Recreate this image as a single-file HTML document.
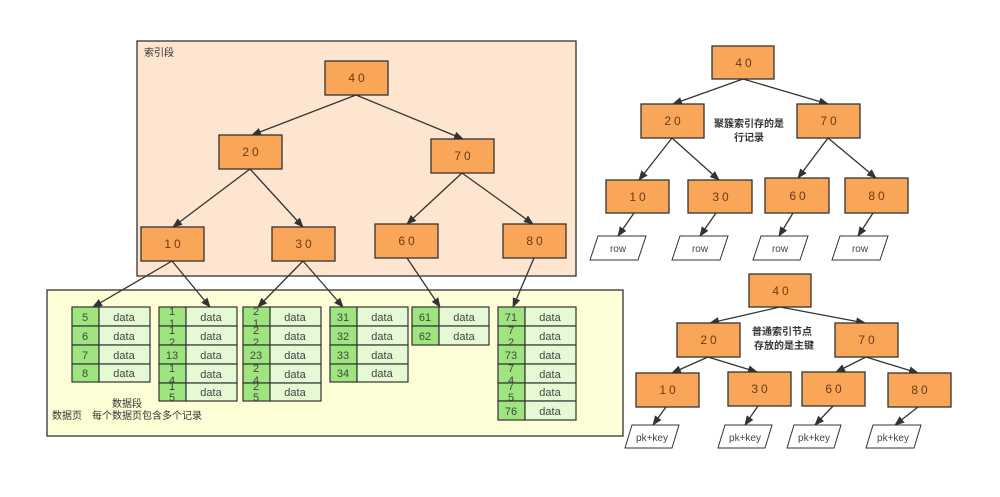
<!DOCTYPE html>
<html><head><meta charset="utf-8"><style>
html,body{margin:0;padding:0;background:#fff}
svg{display:block}
text{font-family:"Liberation Sans","Noto Sans CJK SC",sans-serif}
.n{fill:#f9a659;stroke:#333;stroke-width:1.3}
.nt{font-size:12px;fill:#6b3a10;text-anchor:middle;letter-spacing:3px}
.e{stroke:#333;stroke-width:1.3;fill:none;marker-end:url(#a)}
.k{fill:#9ee57f;stroke:#333;stroke-width:1.2}
.d{fill:#e4f9d4;stroke:#333;stroke-width:1.2}
.kt{font-size:11px;fill:#444;text-anchor:middle}
.dt{font-size:11px;fill:#444;text-anchor:middle}
.p{fill:#fff;stroke:#333;stroke-width:1}
.pt{font-size:10px;fill:#444;text-anchor:middle}
.c{font-size:10px;fill:#333}
</style></head><body>
<svg width="1000" height="497" viewBox="0 0 1000 497" xmlns="http://www.w3.org/2000/svg">
<defs><marker id="a" markerWidth="10" markerHeight="8" refX="9" refY="4" orient="auto" markerUnits="userSpaceOnUse"><path d="M0,0 L10,4 L0,8 Z" fill="#333"/></marker></defs>

<!-- data segment -->
<rect x="47" y="290" width="576" height="146" fill="#fdfdd6" stroke="#333" stroke-width="1.3"/>
<!-- index segment -->
<rect x="137" y="41" width="439" height="235" fill="#fde5cf" stroke="#333" stroke-width="1.3"/>
<text x="144" y="56" class="c" fill="#666">索引段</text>

<!-- left tree edges -->
<line class="e" x1="356" y1="95" x2="252" y2="135"/>
<line class="e" x1="356" y1="95" x2="463" y2="139"/>
<line class="e" x1="250" y1="169" x2="173" y2="227"/>
<line class="e" x1="250" y1="169" x2="303" y2="227"/>
<line class="e" x1="462" y1="173" x2="407" y2="224"/>
<line class="e" x1="462" y1="173" x2="533" y2="224"/>
<line class="e" x1="172" y1="261" x2="93" y2="307"/>
<line class="e" x1="172" y1="261" x2="210" y2="307"/>
<line class="e" x1="303" y1="261" x2="258" y2="307"/>
<line class="e" x1="303" y1="261" x2="343" y2="307"/>
<line class="e" x1="407" y1="258" x2="440" y2="307"/>
<line class="e" x1="534" y1="258" x2="513" y2="307"/>

<rect class="n" x="325" y="61" width="63" height="34"/><text class="nt" x="358" y="82">40</text>
<rect class="n" x="219" y="135" width="63" height="34"/><text class="nt" x="252" y="156">20</text>
<rect class="n" x="431" y="139" width="63" height="34"/><text class="nt" x="464" y="160">70</text>
<rect class="n" x="141" y="227" width="63" height="34"/><text class="nt" x="174" y="248">10</text>
<rect class="n" x="272" y="227" width="63" height="34"/><text class="nt" x="305" y="248">30</text>
<rect class="n" x="375" y="224" width="63" height="34"/><text class="nt" x="408" y="245">60</text>
<rect class="n" x="503" y="224" width="63" height="34"/><text class="nt" x="536" y="245">80</text>

<!-- page 1 -->
<g>
<rect class="k" x="72" y="307" width="27" height="19"/><rect class="d" x="99" y="307" width="51" height="19"/><text class="kt" x="85" y="321">5</text><text class="dt" x="124" y="321">data</text>
<rect class="k" x="72" y="326" width="27" height="19"/><rect class="d" x="99" y="326" width="51" height="19"/><text class="kt" x="85" y="340">6</text><text class="dt" x="124" y="340">data</text>
<rect class="k" x="72" y="345" width="27" height="19"/><rect class="d" x="99" y="345" width="51" height="19"/><text class="kt" x="85" y="359">7</text><text class="dt" x="124" y="359">data</text>
<rect class="k" x="72" y="364" width="27" height="18"/><rect class="d" x="99" y="364" width="51" height="18"/><text class="kt" x="85" y="377">8</text><text class="dt" x="124" y="377">data</text>
</g>
<!-- page 2 -->
<g>
<rect class="k" x="159" y="307" width="27" height="19"/><rect class="d" x="186" y="307" width="51" height="19"/><text class="kt" x="172" y="315">1</text><text class="kt" x="172" y="327">1</text><text class="dt" x="211" y="321">data</text>
<rect class="k" x="159" y="326" width="27" height="19"/><rect class="d" x="186" y="326" width="51" height="19"/><text class="kt" x="172" y="334">1</text><text class="kt" x="172" y="346">2</text><text class="dt" x="211" y="340">data</text>
<rect class="k" x="159" y="345" width="27" height="19"/><rect class="d" x="186" y="345" width="51" height="19"/><text class="kt" x="172" y="359">13</text><text class="dt" x="211" y="359">data</text>
<rect class="k" x="159" y="364" width="27" height="19"/><rect class="d" x="186" y="364" width="51" height="19"/><text class="kt" x="172" y="372">1</text><text class="kt" x="172" y="384">4</text><text class="dt" x="211" y="378">data</text>
<rect class="k" x="159" y="383" width="27" height="18"/><rect class="d" x="186" y="383" width="51" height="18"/><text class="kt" x="172" y="390">1</text><text class="kt" x="172" y="401">5</text><text class="dt" x="211" y="396">data</text>
</g>
<!-- page 3 -->
<g>
<rect class="k" x="243" y="307" width="27" height="19"/><rect class="d" x="270" y="307" width="51" height="19"/><text class="kt" x="256" y="315">2</text><text class="kt" x="256" y="327">1</text><text class="dt" x="295" y="321">data</text>
<rect class="k" x="243" y="326" width="27" height="19"/><rect class="d" x="270" y="326" width="51" height="19"/><text class="kt" x="256" y="334">2</text><text class="kt" x="256" y="346">2</text><text class="dt" x="295" y="340">data</text>
<rect class="k" x="243" y="345" width="27" height="19"/><rect class="d" x="270" y="345" width="51" height="19"/><text class="kt" x="256" y="359">23</text><text class="dt" x="295" y="359">data</text>
<rect class="k" x="243" y="364" width="27" height="19"/><rect class="d" x="270" y="364" width="51" height="19"/><text class="kt" x="256" y="372">2</text><text class="kt" x="256" y="384">4</text><text class="dt" x="295" y="378">data</text>
<rect class="k" x="243" y="383" width="27" height="18"/><rect class="d" x="270" y="383" width="51" height="18"/><text class="kt" x="256" y="390">2</text><text class="kt" x="256" y="401">5</text><text class="dt" x="295" y="396">data</text>
</g>
<!-- page 4 -->
<g>
<rect class="k" x="330" y="307" width="27" height="19"/><rect class="d" x="357" y="307" width="51" height="19"/><text class="kt" x="343" y="321">31</text><text class="dt" x="382" y="321">data</text>
<rect class="k" x="330" y="326" width="27" height="19"/><rect class="d" x="357" y="326" width="51" height="19"/><text class="kt" x="343" y="340">32</text><text class="dt" x="382" y="340">data</text>
<rect class="k" x="330" y="345" width="27" height="19"/><rect class="d" x="357" y="345" width="51" height="19"/><text class="kt" x="343" y="359">33</text><text class="dt" x="382" y="359">data</text>
<rect class="k" x="330" y="364" width="27" height="18"/><rect class="d" x="357" y="364" width="51" height="18"/><text class="kt" x="343" y="377">34</text><text class="dt" x="382" y="377">data</text>
</g>
<!-- page 5 -->
<g>
<rect class="k" x="412" y="307" width="27" height="19"/><rect class="d" x="439" y="307" width="50" height="19"/><text class="kt" x="425" y="321">61</text><text class="dt" x="464" y="321">data</text>
<rect class="k" x="412" y="326" width="27" height="19"/><rect class="d" x="439" y="326" width="50" height="19"/><text class="kt" x="425" y="340">62</text><text class="dt" x="464" y="340">data</text>
</g>
<!-- page 6 -->
<g>
<rect class="k" x="498" y="307" width="27" height="19"/><rect class="d" x="525" y="307" width="51" height="19"/><text class="kt" x="511" y="321">71</text><text class="dt" x="550" y="321">data</text>
<rect class="k" x="498" y="326" width="27" height="19"/><rect class="d" x="525" y="326" width="51" height="19"/><text class="kt" x="511" y="334">7</text><text class="kt" x="511" y="346">2</text><text class="dt" x="550" y="340">data</text>
<rect class="k" x="498" y="345" width="27" height="19"/><rect class="d" x="525" y="345" width="51" height="19"/><text class="kt" x="511" y="359">73</text><text class="dt" x="550" y="359">data</text>
<rect class="k" x="498" y="364" width="27" height="19"/><rect class="d" x="525" y="364" width="51" height="19"/><text class="kt" x="511" y="372">7</text><text class="kt" x="511" y="384">4</text><text class="dt" x="550" y="378">data</text>
<rect class="k" x="498" y="383" width="27" height="18"/><rect class="d" x="525" y="383" width="51" height="18"/><text class="kt" x="511" y="390">7</text><text class="kt" x="511" y="401">5</text><text class="dt" x="550" y="396">data</text>
<rect class="k" x="498" y="401" width="27" height="19"/><rect class="d" x="525" y="401" width="51" height="19"/><text class="kt" x="511" y="415">76</text><text class="dt" x="550" y="415">data</text>
</g>
<text class="c" x="112" y="407">数据段</text>
<text class="c" x="52" y="419">数据页　每个数据页包含多个记录</text>

<!-- right top tree -->
<line class="e" x1="743" y1="79" x2="673" y2="104"/>
<line class="e" x1="743" y1="79" x2="828" y2="104"/>
<line class="e" x1="672" y1="138" x2="639" y2="180"/>
<line class="e" x1="672" y1="138" x2="719" y2="180"/>
<line class="e" x1="828" y1="138" x2="798" y2="178"/>
<line class="e" x1="828" y1="138" x2="876" y2="178"/>
<line class="e" x1="634" y1="213" x2="618" y2="236"/>
<line class="e" x1="716" y1="213" x2="700" y2="236"/>
<line class="e" x1="793" y1="213" x2="779" y2="236"/>
<line class="e" x1="873" y1="213" x2="858" y2="236"/>
<rect class="n" x="712" y="46" width="62" height="33"/><text class="nt" x="745" y="67">40</text>
<rect class="n" x="641" y="104" width="63" height="34"/><text class="nt" x="674" y="125">20</text>
<rect class="n" x="797" y="104" width="63" height="34"/><text class="nt" x="830" y="125">70</text>
<rect class="n" x="606" y="180" width="63" height="33"/><text class="nt" x="639" y="201">10</text>
<rect class="n" x="688" y="180" width="64" height="33"/><text class="nt" x="722" y="201">30</text>
<rect class="n" x="765" y="178" width="64" height="35"/><text class="nt" x="799" y="200">60</text>
<rect class="n" x="845" y="178" width="63" height="35"/><text class="nt" x="878" y="200">80</text>
<text class="c" x="714" y="127" font-weight="bold">聚簇索引存的是</text>
<text class="c" x="734" y="141" font-weight="bold">行记录</text>
<polygon class="p" points="598,236 646,236 638,260 590,260"/><text class="pt" x="618" y="252">row</text>
<polygon class="p" points="680,236 728,236 720,260 672,260"/><text class="pt" x="700" y="252">row</text>
<polygon class="p" points="761,236 808,236 800,260 753,260"/><text class="pt" x="780" y="252">row</text>
<polygon class="p" points="840,236 888,236 880,260 832,260"/><text class="pt" x="860" y="252">row</text>

<!-- right bottom tree -->
<line class="e" x1="780" y1="307" x2="710" y2="323"/>
<line class="e" x1="780" y1="307" x2="865" y2="323"/>
<line class="e" x1="708" y1="357" x2="672" y2="373"/>
<line class="e" x1="708" y1="357" x2="757" y2="372"/>
<line class="e" x1="866" y1="357" x2="836" y2="372"/>
<line class="e" x1="866" y1="357" x2="918" y2="373"/>
<line class="e" x1="666" y1="407" x2="653" y2="425"/>
<line class="e" x1="758" y1="406" x2="745" y2="425"/>
<line class="e" x1="833" y1="406" x2="815" y2="425"/>
<line class="e" x1="918" y1="407" x2="895" y2="425"/>
<rect class="n" x="749" y="274" width="62" height="33"/><text class="nt" x="782" y="295">40</text>
<rect class="n" x="677" y="323" width="63" height="34"/><text class="nt" x="710" y="344">20</text>
<rect class="n" x="835" y="323" width="63" height="34"/><text class="nt" x="868" y="344">70</text>
<rect class="n" x="636" y="373" width="63" height="34"/><text class="nt" x="669" y="394">10</text>
<rect class="n" x="728" y="372" width="63" height="34"/><text class="nt" x="761" y="393">30</text>
<rect class="n" x="802" y="372" width="63" height="34"/><text class="nt" x="835" y="393">60</text>
<rect class="n" x="888" y="373" width="63" height="34"/><text class="nt" x="921" y="394">80</text>
<text class="c" x="752" y="335" font-weight="bold">普通索引节点</text>
<text class="c" x="754" y="349" font-weight="bold">存放的是主键</text>
<polygon class="p" points="632,425 679,425 672,448 625,448"/><text class="pt" x="652" y="441">pk+key</text>
<polygon class="p" points="725,425 772,425 765,448 718,448"/><text class="pt" x="745" y="441">pk+key</text>
<polygon class="p" points="794,425 841,425 834,448 787,448"/><text class="pt" x="814" y="441">pk+key</text>
<polygon class="p" points="873,425 921,425 914,448 866,448"/><text class="pt" x="893" y="441">pk+key</text>
</svg>
</body></html>
